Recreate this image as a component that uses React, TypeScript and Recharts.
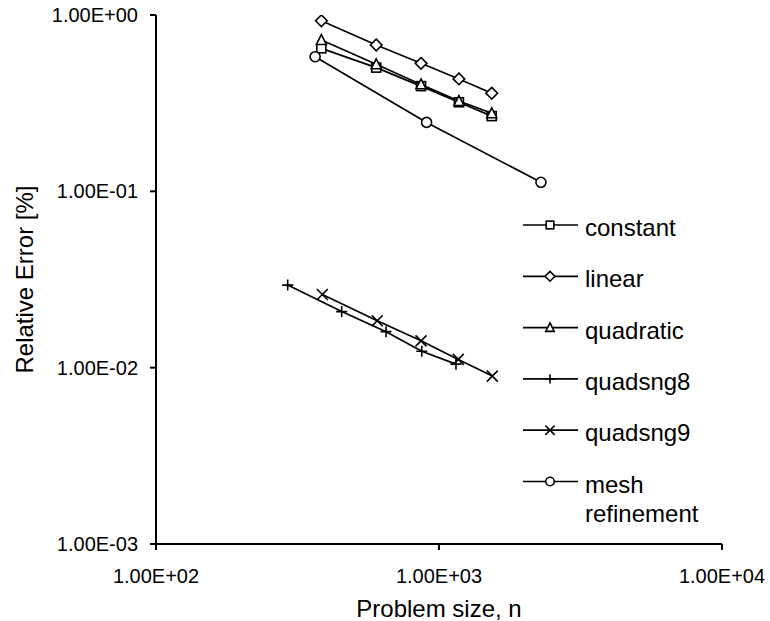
import React from 'react';
import { ScatterChart, Scatter, XAxis, YAxis, Legend, Label } from 'recharts';

// ---- data ----
const sizeN = [384, 600, 864, 1176, 1536];
const constantErr = [0.647, 0.503, 0.395, 0.32, 0.267];
const linearErr = [0.928, 0.676, 0.532, 0.434, 0.36];
const quadraticErr = [0.721, 0.525, 0.404, 0.325, 0.277];
const quadsng8N = [292, 453, 650, 869, 1148];
const quadsng8Err = [0.0294, 0.0208, 0.016, 0.0124, 0.01047];
const quadsng9N = [387, 605, 864, 1170, 1543];
const quadsng9Err = [0.026, 0.01845, 0.0142, 0.01114, 0.00896];
const meshN = [365, 904, 2292];
const meshErr = [0.58, 0.246, 0.1125];
const xTicks = [100, 1000, 10000];
const yTicks = [0.001, 0.01, 0.1, 1];
const seriesNames = ['constant', 'linear', 'quadratic', 'quadsng8', 'quadsng9', 'mesh refinement'];

type Kind = 'square' | 'diamond' | 'triangle' | 'plus' | 'cross' | 'circle';
const kinds: Kind[] = ['square', 'diamond', 'triangle', 'plus', 'cross', 'circle'];

const toPts = (xs: number[], ys: number[]) => xs.map((n, i) => ({ n, err: ys[i] }));
const seriesData = [
  toPts(sizeN, constantErr),
  toPts(sizeN, linearErr),
  toPts(sizeN, quadraticErr),
  toPts(quadsng8N, quadsng8Err),
  toPts(quadsng9N, quadsng9Err),
  toPts(meshN, meshErr),
];

const FONT = '"Liberation Sans", Arial, sans-serif';

const fmtSci = (v: number) => {
  const e = Math.round(Math.log10(v));
  const sign = e < 0 ? '-' : '+';
  const a = Math.abs(e);
  return `1.00E${sign}${a < 10 ? '0' + a : a}`;
};

function Marker({ kind, cx, cy, k = 1 }: { kind: Kind; cx: number; cy: number; k?: number }) {
  const st = { stroke: '#000', strokeWidth: 1.6, fill: '#fff' };
  if (cx == null || cy == null) return null;
  switch (kind) {
    case 'square': {
      const s = 4.5 * k;
      return <rect x={cx - s} y={cy - s} width={2 * s} height={2 * s} {...st} />;
    }
    case 'diamond': {
      const d = 5.8 * k;
      return <polygon points={`${cx},${cy - d} ${cx + d},${cy} ${cx},${cy + d} ${cx - d},${cy}`} {...st} />;
    }
    case 'triangle': {
      const w = 5 * k;
      const h = 5.5 * k;
      return <polygon points={`${cx},${cy - h} ${cx + w},${cy + h * 0.8} ${cx - w},${cy + h * 0.8}`} {...st} />;
    }
    case 'plus': {
      const s = 5.5 * k;
      return <path d={`M${cx - s},${cy}H${cx + s}M${cx},${cy - s}V${cy + s}`} stroke="#000" strokeWidth={1.6} fill="none" />;
    }
    case 'cross': {
      const s = 5.5 * k;
      return (
        <path
          d={`M${cx - s},${cy - s}L${cx + s},${cy + s}M${cx - s},${cy + s}L${cx + s},${cy - s}`}
          stroke="#000"
          strokeWidth={1.6}
          fill="none"
        />
      );
    }
    case 'circle':
    default:
      return <circle cx={cx} cy={cy} r={5 * k} {...st} />;
  }
}

const LEG_LEFT = 515;
const LEG_TOP = 200;

function LegendContent() {
  const rowY = (i: number) => 25 + i * 51.3;
  return (
    <svg width={250} height={340} style={{ overflow: 'visible', display: 'block' }}>
      {seriesNames.map((name, i) => {
        const y = rowY(i);
        const lines = name === 'mesh refinement' ? ['mesh', 'refinement'] : [name];
        return (
          <g key={name}>
            <line x1={8} x2={63} y1={y} y2={y} stroke="#000" strokeWidth={1.7} />
            <Marker kind={kinds[i]} cx={35} cy={y} k={0.85} />
            {lines.map((t, j) => (
              <text key={t} x={70} y={y + 11 + j * 29} fontSize={24} fontFamily={FONT} fill="#000">
                {t}
              </text>
            ))}
          </g>
        );
      })}
    </svg>
  );
}

export default function App() {
  return (
    <div style={{ position: 'absolute', left: 0, top: 0, width: 770, height: 621, background: '#fff' }}>
      <ScatterChart width={770} height={621} margin={{ top: 15, right: 48, bottom: 0, left: 0 }}>
        <XAxis
          dataKey="n"
          type="number"
          scale="log"
          domain={[100, 10000]}
          ticks={xTicks}
          allowDataOverflow
          height={77}
          tickFormatter={fmtSci}
          axisLine={{ stroke: '#000', strokeWidth: 2 }}
          tickLine={{ stroke: '#000', strokeWidth: 2 }}
          tickSize={6}
          tickMargin={19}
          tick={{ fontSize: 20, fill: '#000', fontFamily: FONT }}
          interval={0}
        >
          <Label
            content={({ viewBox }: any) => (
              <text
                x={viewBox.x + viewBox.width / 2}
                y={viewBox.y + 73}
                textAnchor="middle"
                fontSize={24}
                fontFamily={FONT}
                fill="#000"
              >
                Problem size, n
              </text>
            )}
          />
        </XAxis>
        <YAxis
          dataKey="err"
          type="number"
          scale="log"
          domain={[0.001, 1]}
          ticks={yTicks}
          allowDataOverflow
          width={156}
          tickFormatter={fmtSci}
          axisLine={{ stroke: '#000', strokeWidth: 2 }}
          tickLine={{ stroke: '#000', strokeWidth: 2 }}
          tickSize={6}
          tickMargin={12}
          tick={{ fontSize: 20, fill: '#000', fontFamily: FONT }}
          interval={0}
        >
          <Label
            content={({ viewBox }: any) => {
              const cx = viewBox.x + 33;
              const cy = viewBox.y + viewBox.height / 2;
              return (
                <text
                  x={cx}
                  y={cy}
                  transform={`rotate(-90, ${cx}, ${cy})`}
                  textAnchor="middle"
                  fontSize={24}
                  fontFamily={FONT}
                  fill="#000"
                >
                  Relative Error [%]
                </text>
              );
            }}
          />
        </YAxis>
        <XAxis
          xAxisId="top"
          orientation="top"
          type="number"
          scale="log"
          domain={[100, 10000]}
          allowDataOverflow
          height={0}
          tick={false}
          tickLine={false}
          axisLine={{ stroke: '#808080', strokeWidth: 2 }}
        />
        <YAxis
          yAxisId="right"
          orientation="right"
          type="number"
          scale="log"
          domain={[0.001, 1]}
          allowDataOverflow
          width={0}
          tick={false}
          tickLine={false}
          axisLine={{ stroke: '#808080', strokeWidth: 2 }}
        />
        {seriesData.map((d, i) => (
          <Scatter
            key={seriesNames[i]}
            name={seriesNames[i]}
            data={d}
            dataKey="err"
            line={{ stroke: '#000', strokeWidth: 1.7 }}
            lineType="joint"
            isAnimationActive={false}
            shape={(p: any) => <Marker kind={kinds[i]} cx={p.cx} cy={p.cy} />}
          />
        ))}
        <Legend
          layout="vertical"
          align="center"
          verticalAlign="middle"
          content={() => <LegendContent />}
          wrapperStyle={{ position: 'absolute', left: LEG_LEFT, top: LEG_TOP, width: 250, height: 340 }}
        />
      </ScatterChart>
    </div>
  );
}
